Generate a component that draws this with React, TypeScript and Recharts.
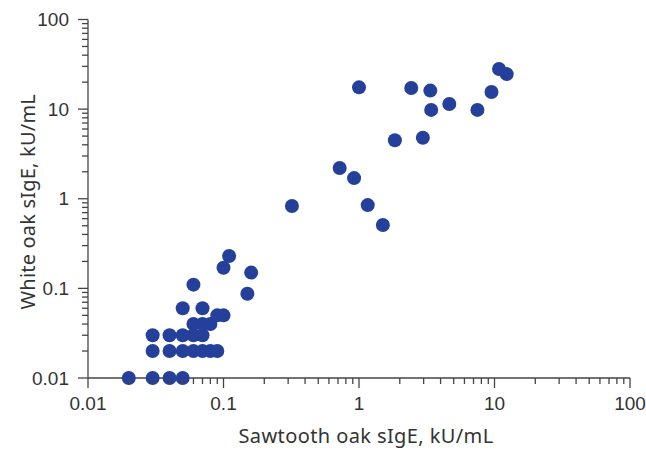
import React from "react";
import { ScatterChart, Scatter, XAxis, YAxis } from "recharts";

// Sawtooth oak sIgE (x) vs White oak sIgE (y), kU/mL
const sawtoothOak = [
  0.02, 0.03, 0.04, 0.05,
  0.03, 0.04, 0.05, 0.06, 0.07, 0.08, 0.09,
  0.03, 0.04, 0.05, 0.06, 0.07,
  0.06, 0.07, 0.08,
  0.09, 0.1,
  0.05, 0.07,
  0.06, 0.1, 0.11, 0.16, 0.15,
  0.32, 0.72, 0.92, 1.16, 1.5,
  1.0, 2.43, 3.36, 3.41, 4.64, 7.48, 9.5, 10.8, 12.3,
  1.84, 2.96,
];
const whiteOak = [
  0.01, 0.01, 0.01, 0.01,
  0.02, 0.02, 0.02, 0.02, 0.02, 0.02, 0.02,
  0.03, 0.03, 0.03, 0.03, 0.03,
  0.04, 0.04, 0.04,
  0.05, 0.05,
  0.06, 0.06,
  0.11, 0.17, 0.23, 0.15, 0.087,
  0.83, 2.2, 1.7, 0.85, 0.51,
  17.5, 17.2, 16.1, 9.8, 11.4, 9.8, 15.5, 28, 24.6,
  4.5, 4.8,
];

const axisTicks = [
  0.01, 0.02, 0.03, 0.04, 0.05, 0.06, 0.07, 0.08, 0.09,
  0.1, 0.2, 0.3, 0.4, 0.5, 0.6, 0.7, 0.8, 0.9,
  1, 2, 3, 4, 5, 6, 7, 8, 9,
  10, 20, 30, 40, 50, 60, 70, 80, 90,
  100,
];
const majorTicks = [0.01, 0.1, 1, 10, 100];
const majorLabels = ["0.01", "0.1", "1", "10", "100"];

const xTitle = "Sawtooth oak sIgE, kU/mL";
const yTitle = "White oak sIgE, kU/mL";

const data = sawtoothOak.map((x, i) => ({ x, y: whiteOak[i] }));

const AXIS_COLOR = "#444";
const TEXT_COLOR = "#333";
const DOT_COLOR = "#24409a";
const TICK_FONT = "'Liberation Sans', Arial, sans-serif";
const TITLE_FONT = "'Noto Sans', sans-serif";

function majorIndex(v: number) {
  return majorTicks.findIndex((m) => Math.abs(m - v) < 1e-9);
}

const XTick = (props: any) => {
  const { x, y, payload } = props;
  const mi = majorIndex(payload.value);
  const len = mi >= 0 ? 10 : 6;
  return (
    <g>
      <line x1={x} y1={y} x2={x} y2={y + len} stroke={AXIS_COLOR} strokeWidth={1.3} />
      {mi >= 0 && (
        <text x={x} y={y + 32} textAnchor="middle" fontSize={19} fontFamily={TICK_FONT} fill={TEXT_COLOR}>
          {majorLabels[mi]}
        </text>
      )}
    </g>
  );
};

const YTick = (props: any) => {
  const { x, y, payload } = props;
  const mi = majorIndex(payload.value);
  const len = mi >= 0 ? 10 : 6;
  return (
    <g>
      <line x1={x} y1={y} x2={x - len} y2={y} stroke={AXIS_COLOR} strokeWidth={1.3} />
      {mi >= 0 && (
        <text x={x - 19} y={y} dy="0.35em" textAnchor="end" fontSize={19} fontFamily={TICK_FONT} fill={TEXT_COLOR}>
          {majorLabels[mi]}
        </text>
      )}
    </g>
  );
};

const XTitle = (props: any) => {
  const vb = props.viewBox || { x: 0, y: 0, width: 0, height: 0 };
  return (
    <text x={vb.x + vb.width / 2 + 7} y={vb.y + 65} textAnchor="middle" fontSize={20} letterSpacing={0.4} fontFamily={TITLE_FONT} fill={TEXT_COLOR}>
      {xTitle}
    </text>
  );
};

const YTitle = (props: any) => {
  const vb = props.viewBox || { x: 0, y: 0, width: 0, height: 0 };
  const cx = vb.x + 20;
  const cy = vb.y + vb.height / 2 + 3;
  return (
    <text x={cx} y={cy} transform={`rotate(-90 ${cx} ${cy})`} dy="0.35em" textAnchor="middle" fontSize={20} letterSpacing={0.2} fontFamily={TITLE_FONT} fill={TEXT_COLOR}>
      {yTitle}
    </text>
  );
};

const Dot = (props: any) => <circle cx={props.cx} cy={props.cy} r={7} fill={DOT_COLOR} />;

export default function App() {
  return (
    <div style={{ position: "absolute", left: 0, top: 0, width: 646, height: 452 }}>
      <ScatterChart width={646} height={452} margin={{ top: 19.5, right: 16, left: 8, bottom: 0 }}>
        <XAxis
          dataKey="x"
          type="number"
          scale="log"
          domain={[0.01, 100]}
          ticks={axisTicks}
          interval={0}
          height={74}
          tickSize={0}
          tickMargin={0}
          tickLine={false}
          tick={<XTick />}
          axisLine={{ stroke: AXIS_COLOR, strokeWidth: 1.3 }}
          label={<XTitle />}
        />
        <YAxis
          dataKey="y"
          type="number"
          scale="log"
          domain={[0.01, 100]}
          ticks={axisTicks}
          interval={0}
          width={80}
          tickSize={0}
          tickMargin={0}
          tickLine={false}
          tick={<YTick />}
          axisLine={{ stroke: AXIS_COLOR, strokeWidth: 1.3 }}
          label={<YTitle />}
        />
        <Scatter data={data} fill={DOT_COLOR} shape={<Dot />} isAnimationActive={false} />
      </ScatterChart>
    </div>
  );
}
